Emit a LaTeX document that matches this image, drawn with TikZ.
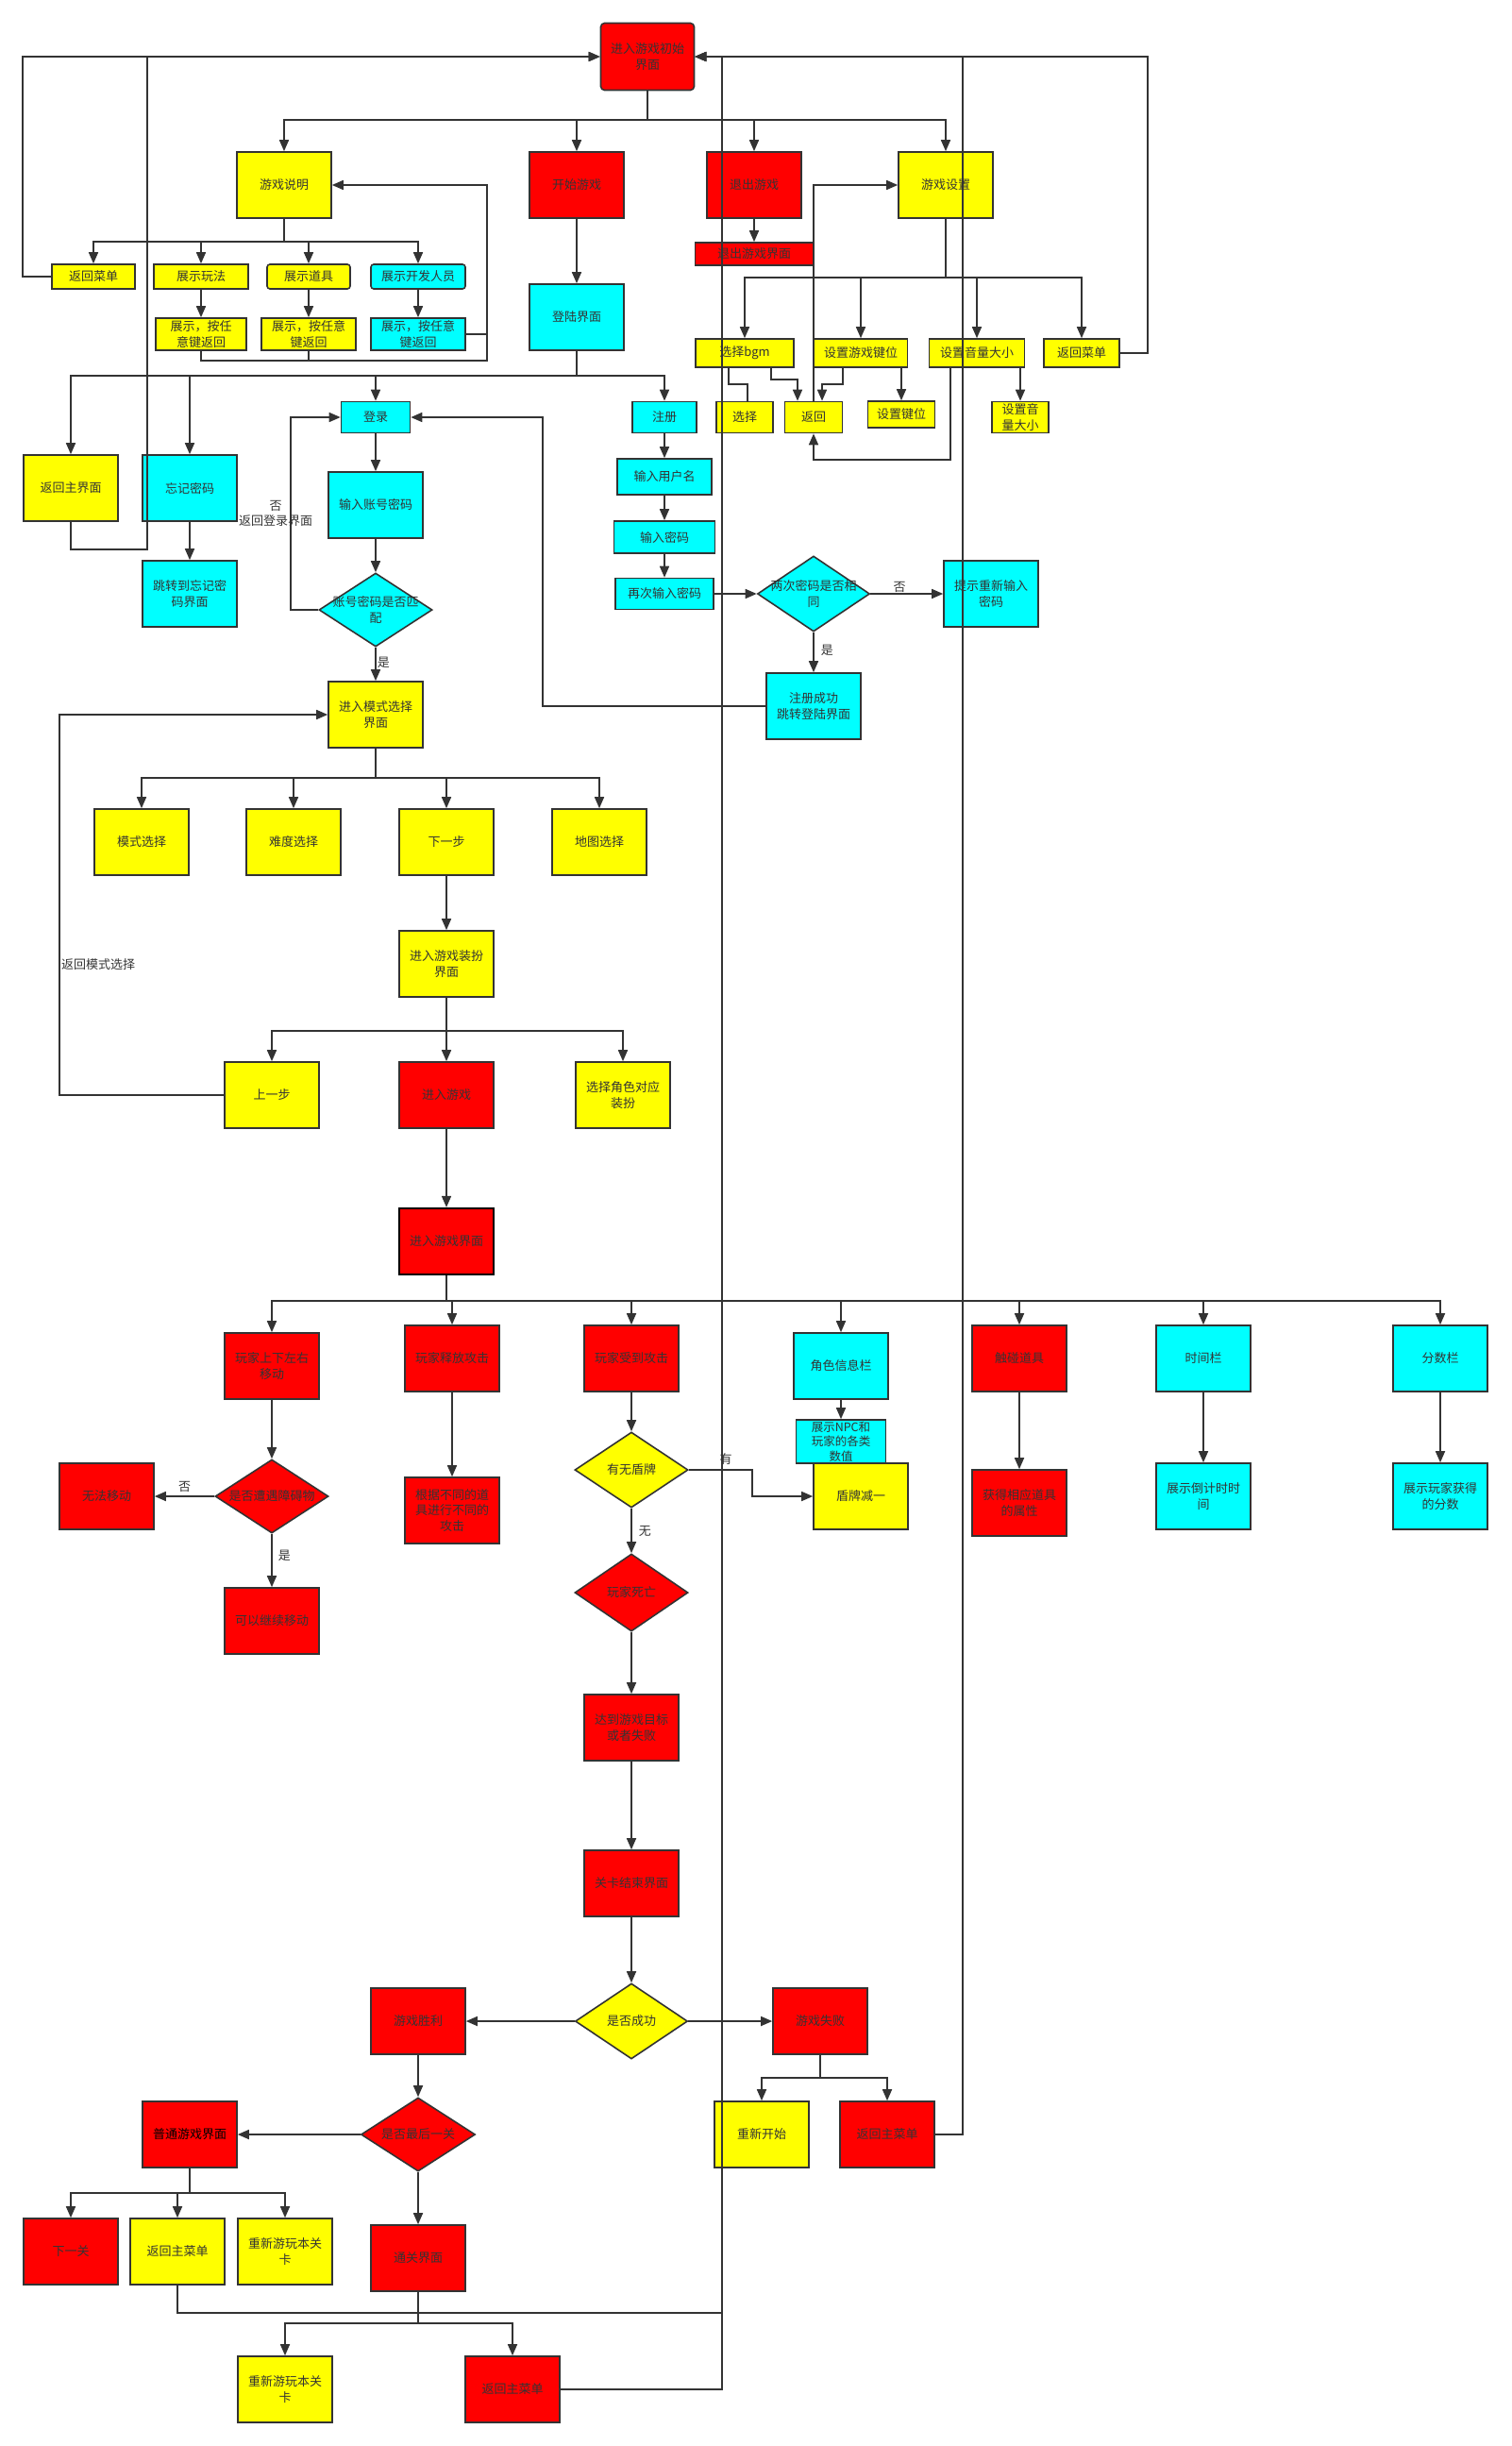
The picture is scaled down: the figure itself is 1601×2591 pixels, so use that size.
\documentclass[tikz,border=0pt]{standalone}
\usepackage{fontspec}
\newfontfamily\cjk{Noto Sans CJK SC}
\usepackage{tikz}
\usetikzlibrary{arrows.meta,positioning,shapes.geometric}
\definecolor{lnc}{HTML}{333333}
\definecolor{ylw}{HTML}{FFFF00}
\definecolor{rd}{HTML}{FF0000}
\definecolor{cy}{HTML}{00FFFF}

\begin{document}
\begin{tikzpicture}[x=1pt, y=-1pt,
	box/.style={draw=lnc, line width=1.6pt, minimum width=100pt, minimum height=70pt,
		inner sep=1pt, align=center, text=lnc, font=\cjk\fontsize{13}{16.5}\selectfont},
	yb/.style={box, fill=ylw},
	rb/.style={box, fill=rd},
	cb/.style={box, fill=cy},
	dia/.style={diamond, draw=lnc, line width=1.6pt, minimum width=120pt, minimum height=80pt,
		inner sep=0pt},
	dtxt/.style={align=center, text=lnc, inner sep=0pt, font=\cjk\fontsize{13}{16.5}\selectfont},
	lbl/.style={align=center, text=lnc, inner sep=1pt, font=\cjk\fontsize{13}{16}\selectfont},
	arr/.style={draw=lnc, line width=1.6pt, -{Triangle[length=12pt,width=10pt]}},
	wire/.style={draw=lnc, line width=1.6pt}
]
	\useasboundingbox (0,0) rectangle (1601,2591);

	% Start menu
	\node[rb, rounded corners=4pt, minimum width=99pt, minimum height=71pt] (init) at (686,60)
		{进入游戏初始\\界面};
	\node[yb] (explain) at (301,196) {游戏说明};
	\node[rb] (start)   at (611,196) {开始游戏};
	\node[rb] (quit)    at (799,196) {退出游戏};
	\node[yb] (setting) at (1002,196) {游戏设置};
	\coordinate (b0) at (686,127);
	\draw[wire] (init) -- (b0);
	\foreach \nd in {explain,start,quit,setting} \draw[arr] (b0) -| (\nd);

	% Game instructions
	\node[yb, minimum width=88pt, minimum height=26pt] (backmenuL) at (99,293) {返回菜单};
	\node[yb, minimum height=26pt] (showplay) at (213,293) {展示玩法};
	\node[yb, rounded corners=3pt, minimum width=88pt, minimum height=26pt] (showitem) at (327,293) {展示道具};
	\node[cb, rounded corners=3pt, minimum height=26pt] (showdev) at (443,293) {展示开发人员};
	\node[yb, minimum width=96pt, minimum height=34pt] (ret1) at (213,354) {展示，按任\\意键返回};
	\node[yb, minimum height=34pt] (ret2) at (327,354) {展示，按任意\\键返回};
	\node[cb, minimum height=34pt] (ret3) at (443,354) {展示，按任意\\键返回};
	\coordinate (b1) at (301,256);
	\draw[wire] (explain) -- (b1);
	\foreach \nd in {backmenuL,showplay,showitem,showdev} \draw[arr] (b1) -| (\nd);
	\draw[arr] (showplay) -- (ret1);
	\draw[arr] (showitem) -- (ret2);
	\draw[arr] (showdev) -- (ret3);
	\coordinate (r3) at (516,354);
	\coordinate (r4) at (516,382);
	\draw[arr] (ret3) -- (r3) |- (explain);
	\draw[wire] (ret1) |- (r4) -- (r3);
	\draw[wire] (ret2) |- (r4);
	\coordinate (c1) at (24,293);
	\draw[arr] (backmenuL) -- (c1) |- (init);

	% Quit
	\node[rb, minimum width=125pt, minimum height=24pt] (quitui) at (799,269) {退出游戏界面};
	\draw[arr] (quit) -- (quitui);

	% Settings
	\node[yb, minimum width=104pt, minimum height=30pt] (bgm)       at (789,374)  {选择bgm};
	\node[yb, minimum width=99pt,  minimum height=30pt] (keyset)    at (912,374)  {设置游戏键位};
	\node[yb, minimum width=101pt, minimum height=30pt] (volset)    at (1035,374) {设置音量大小};
	\node[yb, minimum width=80pt,  minimum height=30pt] (backmenuR) at (1146,374) {返回菜单};
	\node[yb, minimum width=60pt, minimum height=33pt] (pick) at (789,442)  {选择};
	\node[yb, minimum width=61pt, minimum height=33pt] (back) at (862,442)  {返回};
	\node[yb, minimum width=71pt, minimum height=28pt] (keys) at (955,439)  {设置键位};
	\node[yb, minimum width=60pt, minimum height=33pt] (vol)  at (1081,442) {设置音\\量大小};
	\coordinate (sj) at (1002,294);
	\draw[wire, line width=2.4pt] (setting) -- (sj);
	\foreach \nd in {bgm,keyset,volset,backmenuR} \draw[arr] (sj) -| (\nd);
	\coordinate (c3) at (1216,374);
	\draw[arr] (backmenuR) -- (c3) |- (init);
	\draw[wire] ([xshift=-17pt]bgm.south) -- ++(0,17) -| ([xshift=3pt]pick.north);
	\draw[arr] ([xshift=28pt]bgm.south) -- ++(0,12) -| ([xshift=-17pt]back.north);
	\draw[arr] ([xshift=-19pt]keyset.south) -- ++(0,17) -| ([xshift=9pt]back.north);
	\draw[arr] (keys.north |- keyset.south) -- (keys);
	\draw[arr] (vol.north |- volset.south) -- (vol);
	\coordinate (c4) at (862,487);
	\draw[arr] ([xshift=-28pt]volset.south) |- (c4) -- (back);
	\draw[arr] (back) |- (setting);

	% Login / register
	\node[cb] (loginui) at (611,336) {登陆界面};
	\draw[arr] (start) -- (loginui);
	\node[yb] (backmain) at (75,517)  {返回主界面};
	\node[cb] (forget)   at (201,517) {忘记密码};
	\node[cb] (forgetui) at (201,629) {跳转到忘记密\\码界面};
	\node[cb, minimum width=73pt, minimum height=33pt] (login) at (398,442) {登录};
	\node[cb] (inputacc) at (398,535) {输入账号密码};
	\node[dia, fill=cy, minimum height=78pt, label={[dtxt]center:{账号密码是否匹\\配}}] (match) at (398,646) {};
	\node[yb] (mode) at (398,757) {进入模式选择\\界面};
	\node[cb, minimum width=68pt, minimum height=33pt] (reg) at (704,442) {注册};
	\node[cb, minimum height=38pt] (user) at (704,505) {输入用户名};
	\node[cb, minimum width=107pt, minimum height=34pt] (pwd) at (704,569) {输入密码};
	\node[cb, minimum width=104pt, minimum height=33pt] (pwd2) at (704,629) {再次输入密码};
	\node[dia, fill=cy, minimum width=119pt, label={[dtxt]center:{两次密码是否相\\同}}] (same) at (862,629) {};
	\node[cb] (retry) at (1050,629) {提示重新输入\\密码};
	\node[cb] (regok) at (862,748) {注册成功\\跳转登陆界面};

	\coordinate (lj) at (611,398);
	\draw[wire] (loginui) -- (lj);
	\foreach \nd in {backmain,forget,login,reg} \draw[arr] (lj) -| (\nd);
	\coordinate (c2) at (156,582);
	\draw[arr] (backmain) |- (c2) |- (init);
	\draw[arr] (forget) -- (forgetui);
	\draw[arr] (login) -- (inputacc);
	\draw[arr] (inputacc) -- (match);
	\draw[arr] (match) -- (mode) node[lbl, pos=0.45, right] (yes1) {是};
	\coordinate (c5) at (308,646);
	\draw[arr] (match) -- (c5) |- (login);
	\node[lbl] (no1) at (292,544) {否\\返回登录界面};
	\draw[arr] (reg) -- (user);
	\draw[arr] (user) -- (pwd);
	\draw[arr] (pwd) -- (pwd2);
	\draw[arr] (pwd2) -- (same);
	\draw[arr] (same) -- (retry) node[lbl, pos=0.4, above] (no3) {否};
	\draw[arr] (same) -- (regok) node[lbl, pos=0.45, right=6pt] (yes3) {是};
	\coordinate (c6) at (575,748);
	\draw[arr] (regok) -- (c6) |- (login);

	% Mode selection
	\node[yb] (modesel) at (150,892) {模式选择};
	\node[yb] (diff)    at (311,892) {难度选择};
	\node[yb] (next)    at (473,892) {下一步};
	\node[yb] (map)     at (635,892) {地图选择};
	\coordinate (mj) at (398,824);
	\draw[wire] (mode) -- (mj);
	\foreach \nd in {modesel,diff,next,map} \draw[arr] (mj) -| (\nd);
	\node[yb] (dress) at (473,1021) {进入游戏装扮\\界面};
	\draw[arr] (next) -- (dress);
	\node[yb] (prev)  at (288,1160) {上一步};
	\node[rb] (enter) at (473,1160) {进入游戏};
	\node[yb] (role)  at (660,1160) {选择角色对应\\装扮};
	\coordinate (dj) at (473,1092);
	\draw[wire] (dress) -- (dj);
	\foreach \nd in {prev,enter,role} \draw[arr] (dj) -| (\nd);
	\coordinate (c7) at (63,1160);
	\draw[arr] (prev) -- (c7) |- (mode);
	\node[lbl, anchor=west] (backmode) at (64,1022) {返回模式选择};

	% In game
	\node[rb, draw=black, line width=2.2pt] (gameui) at (473,1315) {进入游戏界面};
	\draw[arr] (enter) -- (gameui);
	\node[rb] (move)     at (288,1447)  {玩家上下左右\\移动};
	\node[rb] (attack)   at (479,1439)  {玩家释放攻击};
	\node[rb] (hurt)     at (669,1439)  {玩家受到攻击};
	\node[cb] (info)     at (891,1447)  {角色信息栏};
	\node[rb] (touch)    at (1080,1439) {触碰道具};
	\node[cb] (timebar)  at (1275,1439) {时间栏};
	\node[cb] (scorebar) at (1526,1439) {分数栏};
	\coordinate (gj) at (473,1378);
	\draw[wire, line width=2.4pt] (gameui) -- (gj);
	\foreach \nd in {move,attack,hurt,info,touch,timebar,scorebar} \draw[arr] (gj) -| (\nd);

	\node[dia, fill=rd, minimum height=78pt, label={[dtxt]center:是否遭遇障碍物}] (block) at (288,1585) {};
	\node[rb] (nomove)  at (113,1585) {无法移动};
	\node[rb] (canmove) at (288,1717) {可以继续移动};
	\node[rb] (atkitem) at (479,1600) {根据不同的道\\具进行不同的\\攻击};
	\node[dia, fill=ylw, label={[dtxt]center:有无盾牌}] (shield) at (669,1557) {};
	\node[yb] (shieldm) at (912,1585) {盾牌减一};
	\node[cb, minimum width=95pt, minimum height=46pt, font=\cjk\fontsize{12.5}{15.5}\selectfont] (npc) at (891,1527)
		{展示NPC和\\玩家的各类\\数值};
	\node[rb] (itemattr)  at (1080,1592) {获得相应道具\\的属性};
	\node[cb] (countdown) at (1275,1585) {展示倒计时时\\间};
	\node[cb] (showscore) at (1526,1585) {展示玩家获得\\的分数};
	\node[dia, fill=rd, minimum height=82pt, label={[dtxt]center:玩家死亡}] (dead) at (669,1687) {};

	\draw[arr] (move) -- (block);
	\draw[arr] (block) -- (nomove) node[lbl, midway, above=3pt] (no2) {否};
	\draw[arr] (block) -- (canmove) node[lbl, pos=0.4, right=5pt] (yes2) {是};
	\draw[arr] (attack) -- (atkitem);
	\draw[arr] (hurt) -- (shield);
	\draw[arr] (shield) -- (dead) node[lbl, midway, right=6pt] (none) {无};
	\coordinate (c10) at (797,1557);
	\draw[arr] (shield) -- (c10) |- (shieldm);
	\node[lbl] (has) at (769,1546) {有};
	\draw[arr] (info) -- (npc);
	\draw[arr] (touch) -- (itemattr);
	\draw[arr] (timebar) -- (countdown);
	\draw[arr] (scorebar) -- (showscore);

	% Level end
	\node[rb] (goal) at (669,1830) {达到游戏目标\\或者失败};
	\node[rb] (over) at (669,1995) {关卡结束界面};
	\node[dia, fill=ylw, minimum width=119pt, label={[dtxt]center:是否成功}] (success) at (669,2141) {};
	\node[rb] (win)  at (443,2141) {游戏胜利};
	\node[rb] (lose) at (869,2141) {游戏失败};
	\draw[arr] (dead) -- (goal);
	\draw[arr] (goal) -- (over);
	\draw[arr] (over) -- (success);
	\draw[arr] (success) -- (win);
	\draw[arr] (success) -- (lose);

	\node[yb] (restart)  at (807,2261) {重新开始};
	\node[rb] (loseback) at (940,2261) {返回主菜单};
	\coordinate (fj) at (869,2201);
	\draw[wire] (lose) -- (fj);
	\foreach \nd in {restart,loseback} \draw[arr] (fj) -| (\nd);

	\node[dia, fill=rd, minimum width=121pt, minimum height=78pt, label={[dtxt]center:是否最后一关}] (last) at (443,2261) {};
	\node[rb, text=black] (normal) at (201,2261) {普通游戏界面};
	\node[rb] (nextlv)  at (75,2385)  {下一关};
	\node[yb] (nback)   at (188,2385) {返回主菜单};
	\node[yb] (nreplay) at (302,2385) {重新游玩本关\\卡};
	\node[rb] (clear)   at (443,2392) {通关界面};
	\node[yb] (creplay) at (302,2531) {重新游玩本关\\卡};
	\node[rb] (cback)   at (543,2531) {返回主菜单};
	\draw[arr] (win) -- (last);
	\draw[arr] (last) -- (normal);
	\draw[arr] (last) -- (clear);
	\coordinate (nj) at (201,2323);
	\draw[wire] (normal) -- (nj);
	\foreach \nd in {nextlv,nback,nreplay} \draw[arr] (nj) -| (\nd);
	\coordinate (cj) at (443,2461);
	\draw[wire] (clear) -- (cj);
	\foreach \nd in {creplay,cback} \draw[arr] (cj) -| (\nd);

	% Back to the start menu
	\coordinate (c8) at (765,2450);
	\coordinate (c9) at (765,2531);
	\coordinate (c11) at (1020,2261);
	\draw[arr] (nback) |- (c8) |- (init);
	\draw[arr] (cback) -- (c9) |- (init);
	\draw[arr] (loseback) -- (c11) |- (init);
\end{tikzpicture}
\end{document}
